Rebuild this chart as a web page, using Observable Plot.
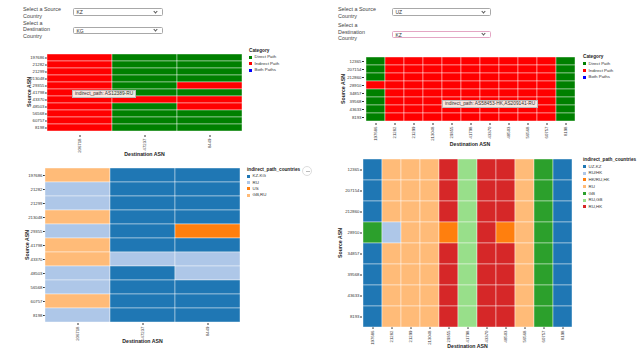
<!DOCTYPE html>
<html><head><meta charset="utf-8">
<script src="https://cdn.jsdelivr.net/npm/d3@7"></script>
<script src="https://cdn.jsdelivr.net/npm/@observablehq/plot@0.6"></script>
<style>
body{margin:0;background:#fff;font-family:"Liberation Sans",Arial,sans-serif;}
#root{position:relative;width:640px;height:360px;overflow:hidden;background:#fff;}
.lbl{position:absolute;font-size:5.4px;color:#444;line-height:6.6px;}
.sel{position:absolute;border:0.7px solid #a8a8a8;border-radius:1.5px;font-size:5px;color:#333;box-sizing:border-box;padding-left:2.5px;line-height:6px;background:#fff;}
.sel .chev{position:absolute;right:5px;top:0.8px;width:2px;height:2px;border-right:0.7px solid #555;border-bottom:0.7px solid #555;transform:rotate(45deg);}
.ttl{position:absolute;font-size:5.2px;font-weight:bold;color:#222;white-space:nowrap;transform:translate(-50%,-50%);}
.ttl.rot{transform:translate(-50%,-50%) rotate(-90deg);}
.leg{position:absolute;font-size:4.4px;color:#333;white-space:nowrap;}
.leg .t{font-weight:bold;font-size:4.7px;color:#222;position:absolute;left:0;}
.leg .i{position:absolute;left:0;}
.leg .sw{display:inline-block;width:3px;height:3px;margin-right:2.5px;vertical-align:middle;}
.tip{position:absolute;font-size:4.8px;color:#333;background:rgba(250,244,238,0.93);border:0.5px solid #bbb;box-sizing:border-box;padding:0 2px;line-height:6px;white-space:nowrap;}
.plot{background:transparent !important;}
</style>
</head><body><div id="root"></div>
<script>
// ---- data ----
const kzAsn = ["197686","21282","21299","213048","29355","41798","43370","48503","56568","60757","8198"];
const kgAsn = ["206718","47237","8449"];
const uzAsn = ["12365","207154","212860","28910","34857","39568","43633","8193"];

const pathCategories = ["Direct Path","Indirect Path","Both Paths"];
const pathColors = ["#008000","#ff0000","#0000ff"];

// KZ -> KG path category (rows: kzAsn, cols: kgAsn)
const kzkgPath = [
  ["Indirect Path","Direct Path","Direct Path"],
  ["Indirect Path","Direct Path","Direct Path"],
  ["Indirect Path","Direct Path","Direct Path"],
  ["Indirect Path","Direct Path","Direct Path"],
  ["Indirect Path","Direct Path","Indirect Path"],
  ["Indirect Path","Direct Path","Direct Path"],
  ["Indirect Path","Indirect Path","Indirect Path"],
  ["Indirect Path","Direct Path","Indirect Path"],
  ["Indirect Path","Direct Path","Direct Path"],
  ["Indirect Path","Direct Path","Direct Path"],
  ["Indirect Path","Direct Path","Direct Path"]
];
// KZ -> KG indirect path countries
const kzkgCountryDomain = ["KZ-KG","RU","US","GB,RU"];
const kzkgCountryColors = ["#1f77b4","#aec7e8","#ff7f0e","#ffbb78"];
const kzkgCountries = [
  ["GB,RU","KZ-KG","KZ-KG"],
  ["RU","KZ-KG","KZ-KG"],
  ["RU","KZ-KG","KZ-KG"],
  ["GB,RU","KZ-KG","KZ-KG"],
  ["RU","KZ-KG","US"],
  ["GB,RU","KZ-KG","KZ-KG"],
  ["GB,RU","RU","RU"],
  ["RU","KZ-KG","RU"],
  ["RU","KZ-KG","KZ-KG"],
  ["GB,RU","KZ-KG","KZ-KG"],
  ["RU","KZ-KG","KZ-KG"]
];

// UZ -> KZ path category (rows: uzAsn, cols: kzAsn)
const D = "Direct Path", I = "Indirect Path";
const uzkzPath = [
  [D,I,I,I,I,I,I,I,I,I,D],
  [D,I,I,I,I,I,I,I,I,I,D],
  [D,I,I,I,I,I,I,I,I,I,D],
  [I,I,I,I,I,I,I,I,I,I,D],
  [D,I,I,I,I,I,I,I,I,I,D],
  [D,I,I,I,I,I,I,I,I,I,D],
  [D,I,I,I,I,I,I,I,I,I,D],
  [D,I,I,I,I,I,I,I,I,I,D]
];
const uzkzCountryDomain = ["UZ-KZ","RU/HK","HK/RU,HK","RU","GB","RU,GB","RU,HK"];
const uzkzCountryColors = ["#1f77b4","#aec7e8","#ff7f0e","#ffbb78","#2ca02c","#98df8a","#d62728"];
const uzkzCountries = [
  ["UZ-KZ","RU","RU","RU","RU,HK","RU,GB","RU,HK","RU,HK","RU","GB","UZ-KZ"],
  ["UZ-KZ","RU","RU","RU","RU,HK","RU,GB","RU,HK","RU,HK","RU","GB","UZ-KZ"],
  ["UZ-KZ","RU","RU","RU","RU,HK","RU,GB","RU,HK","RU,HK","RU","GB","UZ-KZ"],
  ["GB","RU/HK","RU","RU","HK/RU,HK","RU,GB","RU,HK","HK/RU,HK","RU","GB","UZ-KZ"],
  ["UZ-KZ","RU","RU","RU","RU,HK","RU,GB","RU,HK","RU,HK","RU","GB","UZ-KZ"],
  ["UZ-KZ","RU","RU","RU","RU,HK","RU,GB","RU,HK","RU,HK","RU","GB","UZ-KZ"],
  ["UZ-KZ","RU","RU","RU","RU,HK","RU,GB","RU,HK","RU,HK","RU","GB","UZ-KZ"],
  ["UZ-KZ","RU","RU","RU","RU,HK","RU,GB","RU,HK","RU,HK","RU","GB","UZ-KZ"]
];

const leftSource = "KZ", leftDest = "KG";
const rightSource = "UZ", rightDest = "KZ";
const leftTooltip = "indirect_path: AS12389-RU";
const rightTooltip = "indirect_path: AS58453-HK,AS209141-RU";

// ---- drawing ----
const root = document.getElementById("root");
function el(cls, css, html){
  const d = document.createElement("div");
  d.className = cls; Object.assign(d.style, css); if (html!=null) d.innerHTML = html;
  root.appendChild(d); return d;
}

function heat(rows, cols, vals, domain, range, x0, y0, x1, y1){
  const ml = 30, mr = 3, mt = 3, mb = 22;
  const data = rows.flatMap((r,i) => cols.map((c,j) => ({src:r, dst:c, v:vals[i][j]})));
  const svg = Plot.plot({
    width: x1-x0+ml+mr, height: y1-y0+mt+mb,
    marginLeft: ml, marginRight: mr, marginTop: mt, marginBottom: mb,
    style: {fontFamily:'"Liberation Sans",Arial,sans-serif', fontSize:"4.3px", color:"#333", background:"transparent",
            position:"absolute", left:(x0-ml)+"px", top:(y0-mt)+"px"},
    x: {domain: cols, padding: 0, label: null, tickRotate: -90, tickSize: 2, tickPadding: 1},
    y: {domain: rows, padding: 0, label: null, tickSize: 2, tickPadding: 1},
    color: {domain, range},
    marks: [
      Plot.cell(data, {x:"dst", y:"src", fill:"v", stroke:"white", strokeWidth:0.6, strokeOpacity:0.7})
    ]
  });
  root.appendChild(svg);
}

function titles(x0, y0, x1, y1, yx, xy){
  el("ttl rot", {left: yx+"px", top: ((y0+y1)/2)+"px"}, "Source ASN");
  el("ttl", {left: ((x0+x1)/2)+"px", top: xy+"px"}, "Destination ASN");
}

function legend(x, y, title, domain, range, step){
  const g = el("leg", {left:x+"px", top:y+"px"});
  const t = document.createElement("div"); t.className="t"; t.style.top="-3px"; t.textContent = title; g.appendChild(t);
  domain.forEach((d,i) => {
    const it = document.createElement("div"); it.className="i";
    it.style.top = (step*(i+1) - 3) + "px";
    it.innerHTML = `<span class="sw" style="background:${range[i]}"></span>${d}`;
    g.appendChild(it);
  });
}

function selects(lx, bx, bw, src, dst, focus){
  el("lbl", {left:lx+"px", top:"6px", width:"48px"}, "Select a Source<br>Country");
  el("lbl", {left:lx+"px", top:(focus?22:19.5)+"px", width:"48px"}, "Select a<br>Destination<br>Country");
  el("sel", {left:bx+"px", top:"8px", width:bw+"px", height:"7.5px"}, src + '<span class="chev"></span>');
  const s2 = el("sel", {left:bx+"px", top:(focus?30.5:26.5)+"px", width:bw+"px", height:"7.5px"}, dst + '<span class="chev"></span>');
  if (focus) s2.style.borderColor = "#e4a6c4";
}

selects(23, 73, 90, leftSource, leftDest, false);
selects(338, 392, 99, rightSource, rightDest, true);

// top-left
heat(kzAsn, kgAsn, kzkgPath, pathCategories, pathColors, 47, 49, 242, 135);
titles(47, 49, 242, 135, 29, 154);
legend(249, 51, "Category", pathCategories, pathColors, 6.4);
el("tip", {left:"72px", top:"90px"}, leftTooltip);

// bottom-left
heat(kzAsn, kgAsn, kzkgCountries, kzkgCountryDomain, kzkgCountryColors, 45, 167, 240, 323);
titles(45, 167, 240, 323, 27, 341);
legend(247, 170, "indirect_path_countries", kzkgCountryDomain, kzkgCountryColors, 6.3);
el("", {position:"absolute", left:"302px", top:"166px", width:"10px", height:"10px", borderRadius:"50%", border:"0.6px solid #ddd", boxSizing:"border-box"},
   '<div style="position:absolute;left:3px;top:4.3px;width:3.5px;height:0.6px;background:#bbb"></div>');

// top-right
heat(uzAsn, kzAsn, uzkzPath, pathCategories, pathColors, 364, 55, 576, 123);
titles(364, 55, 576, 123, 343, 144);
legend(583, 57, "Category", pathCategories, pathColors, 6.8);
el("tip", {left:"442px", top:"100px"}, rightTooltip);

// bottom-right
heat(uzAsn, kzAsn, uzkzCountries, uzkzCountryDomain, uzkzCountryColors, 362, 158, 573, 327);
titles(362, 158, 573, 327, 340, 346);
legend(583, 160, "indirect_path_countries", uzkzCountryDomain, uzkzCountryColors, 6.7);
</script>
</body></html>
